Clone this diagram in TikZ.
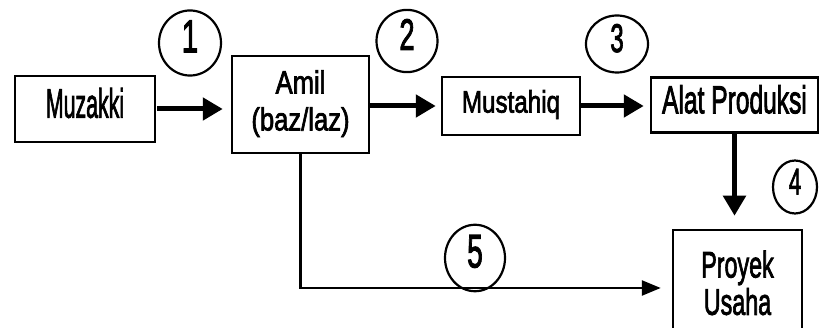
\documentclass[tikz,border=0pt]{standalone}
\usepackage{fontspec}
\setmainfont[FakeBold=2.5]{Liberation Sans}
\usepackage{graphicx}
\usetikzlibrary{arrows.meta,shapes.geometric}
\newcommand{\lbl}[4]{\scalebox{#1}[1]{\fontsize{#2}{#3}\selectfont\begin{tabular}{@{}c@{}}#4\end{tabular}}}
\begin{document}
\begin{tikzpicture}[x=1pt,y=-1pt,
  box/.style={draw, line width=2.5pt, inner sep=0pt},
  num/.style={draw, ellipse, line width=2.2pt, inner sep=0pt},
  bigarrow/.style={line width=5pt, -{Triangle[length=20pt,width=22pt]}},
  thinarrow/.style={line width=2.5pt, -{Triangle[length=19pt,width=15pt]}}]
\path[use as bounding box, clip] (0,0) rectangle (820,328);
\fill[white] (0,0) rectangle (820,328);
% boxes
\node[box, minimum width=140, minimum height=66] (muz) at (85,109) {\lbl{0.52}{41}{41}{Muzakki}};
\node[box, minimum width=137, minimum height=97] (amil) at (300.5,104.5) {\lbl{0.8}{32}{37}{Amil\\(baz/laz)}};
\node[box, minimum width=138, minimum height=58] (mus) at (511,106) {\lbl{0.78}{31}{31}{Mustahiq}};
\node[box, minimum width=167, minimum height=55] (alat) at (734.5,105) {\lbl{0.63}{39}{39}{Alat Produksi}};
\node[box, minimum width=129, minimum height=116] (proy) at (737.5,288) {\lbl{0.63}{37}{35}{Proyek\\Usaha}};
% numbers
\node[num, minimum width=62, minimum height=60] (n1) at (190,43) {\lbl{0.65}{46}{46}{1}};
\node[num, minimum width=61, minimum height=58] (n2) at (407,41) {\lbl{0.62}{44}{44}{2}};
\node[num, minimum width=62, minimum height=57] (n3) at (617,44) {\lbl{0.6}{40}{40}{3}};
\node[num, minimum width=44, minimum height=53] (n4) at (795,187) {\lbl{0.6}{37}{37}{4}};
\node[num, minimum width=60, minimum height=60] (n5) at (475,258) {\lbl{0.6}{47}{47}{5}};
% connectors
\draw[bigarrow, shorten <=1pt, shorten >=8pt] (muz.east) -- (muz.east -| amil.west);
\draw[bigarrow, shorten >=5pt] (amil.east |- mus.west) -- (mus.west);
\draw[bigarrow, shorten >=6pt] (mus.east) -- (mus.east -| alat.west);
\draw[bigarrow, shorten >=13pt] (alat.south) -- (alat.south |- proy.north);
\draw[thinarrow, shorten >=11pt] (amil.south) |- (proy.west);
\end{tikzpicture}
\end{document}
